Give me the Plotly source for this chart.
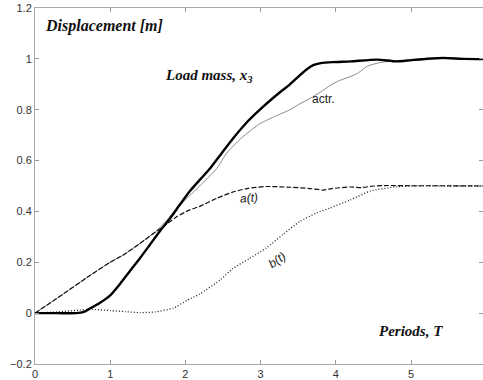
import plotly.graph_objects as go

# Load mass x3 (thick solid)
t_load = [0.0, 0.3, 0.55, 0.65, 0.73, 0.85, 1.0, 1.13, 1.26, 1.4, 1.53, 1.66, 1.8, 1.93, 2.06, 2.2, 2.33, 2.48, 2.63, 2.8, 2.99, 3.2, 3.39, 3.52, 3.62, 3.7, 3.8, 3.96, 4.2, 4.55, 4.8, 5.0, 5.2, 5.43, 5.7, 5.96]
v_load = [0.0, 0.0, 0.0, 0.005, 0.018, 0.038, 0.07, 0.115, 0.165, 0.218, 0.27, 0.322, 0.374, 0.428, 0.48, 0.527, 0.57, 0.628, 0.686, 0.745, 0.80, 0.855, 0.90, 0.935, 0.96, 0.975, 0.983, 0.987, 0.99, 0.997, 0.99, 0.995, 1.0, 1.004, 1.0, 0.999]

# actuator (thin gray)
t_actr = [0.0, 0.3, 0.73, 1.0, 1.17, 1.4, 1.62, 1.75, 1.89, 2.05, 2.19, 2.42, 2.55, 2.75, 2.99, 3.2, 3.39, 3.52, 3.66, 3.8, 3.92, 4.05, 4.19, 4.3, 4.41, 4.55, 4.7, 5.0, 5.4, 5.7, 5.96]
v_actr = [0.0, 0.06, 0.148, 0.2, 0.228, 0.275, 0.325, 0.365, 0.413, 0.46, 0.50, 0.57, 0.63, 0.69, 0.745, 0.775, 0.80, 0.823, 0.845, 0.87, 0.895, 0.915, 0.93, 0.945, 0.97, 0.983, 0.99, 0.993, 1.0, 1.0, 0.999]

# a(t) (dashed)
t_a = [0.0, 0.3, 0.73, 1.0, 1.17, 1.4, 1.62, 1.75, 1.89, 2.05, 2.19, 2.42, 2.62, 2.82, 3.08, 3.4, 3.66, 3.83, 3.95, 4.19, 4.35, 4.5, 4.7, 5.0, 5.4, 5.96]
v_a = [0.0, 0.06, 0.148, 0.2, 0.228, 0.275, 0.323, 0.35, 0.38, 0.405, 0.42, 0.452, 0.475, 0.49, 0.498, 0.495, 0.49, 0.484, 0.49, 0.496, 0.494, 0.5, 0.502, 0.501, 0.501, 0.5]

# b(t) (dotted)
t_b = [0.0, 0.3, 0.6, 0.73, 1.0, 1.2, 1.4, 1.6, 1.84, 2.02, 2.19, 2.46, 2.63, 2.85, 3.08, 3.3, 3.52, 3.75, 3.92, 4.19, 4.46, 4.81, 5.1, 5.4, 5.7, 5.96]
v_b = [0.0, 0.005, 0.012, 0.015, 0.01, 0.006, 0.002, 0.005, 0.02, 0.05, 0.075, 0.13, 0.175, 0.215, 0.257, 0.31, 0.36, 0.395, 0.413, 0.445, 0.48, 0.497, 0.5, 0.5, 0.5, 0.5]

x_ticks = [0, 1, 2, 3, 4, 5]
y_ticks = [-0.2, 0, 0.2, 0.4, 0.6, 0.8, 1, 1.2]
y_tick_text = ["\u22120.2", "0", "0.2", "0.4", "0.6", "0.8", "1", "1.2"]

XMAX = 5.957
YR = [-0.2, 1.2]

fig = go.Figure()
fig.add_trace(go.Scatter(x=t_actr, y=v_actr, mode="lines", line=dict(color="#8a8a8a", width=1, shape="spline", smoothing=0.6), showlegend=False))
fig.add_trace(go.Scatter(x=t_a, y=v_a, mode="lines", line=dict(color="#111", width=1.2, dash="5px,2px", shape="spline", smoothing=0.6), showlegend=False))
fig.add_trace(go.Scatter(x=t_b, y=v_b, mode="lines", line=dict(color="#222", width=1.3, dash="1px,2px", shape="spline", smoothing=0.6), showlegend=False))
fig.add_trace(go.Scatter(x=t_load, y=v_load, mode="lines", line=dict(color="#000", width=2.4, shape="spline", smoothing=0.6), showlegend=False))
fig.add_trace(go.Scatter(x=[0], y=[0], yaxis="y2", mode="markers", marker=dict(opacity=0), showlegend=False, hoverinfo="skip"))

serif = "Liberation Serif"
sans = "Liberation Sans"
anns = [
    dict(x=0.106, y=1.128, text="<b><i>Displacement [m]</i></b>", xanchor="left", yanchor="middle", font=dict(family=serif, size=16, color="#111")),
    dict(x=1.70, y=0.933, text="<b><i>Load mass, x<sub>3</sub></i></b>", xanchor="left", yanchor="middle", font=dict(family=serif, size=15, color="#111")),
    dict(x=3.66, y=0.843, text="actr.", xanchor="left", yanchor="middle", font=dict(family=sans, size=12, color="#222")),
    dict(x=2.85, y=0.452, text="<i>a(t)</i>", xanchor="center", yanchor="middle", textangle=-5, font=dict(family=sans, size=12, color="#222")),
    dict(x=3.22, y=0.21, text="<i>b(t)</i>", xanchor="center", yanchor="middle", textangle=-35, font=dict(family=sans, size=12, color="#222")),
    dict(x=4.55, y=-0.071, text="<b><i>Periods, T</i></b>", xanchor="left", yanchor="middle", font=dict(family=serif, size=15, color="#111")),
]
for a in anns:
    a.update(xref="x", yref="y", showarrow=False)

fig.update_layout(
    width=483, height=380,
    margin=dict(l=35, r=0, t=8, b=13),
    paper_bgcolor="white", plot_bgcolor="white",
    annotations=anns,
    xaxis=dict(range=[0, XMAX], tickvals=x_ticks, ticks="inside", ticklen=4, tickcolor="#999",
               showline=True, linecolor="#aaa", linewidth=1, mirror="ticks", showgrid=False, zeroline=False,
               tickfont=dict(family=sans, size=11, color="#333")),
    yaxis=dict(range=YR, tickvals=y_ticks, ticktext=y_tick_text, ticks="inside", ticklen=4, tickcolor="#999",
               showline=True, linecolor="#aaa", linewidth=1, showgrid=False, zeroline=False,
               tickfont=dict(family=sans, size=11, color="#333")),
    yaxis2=dict(range=YR, overlaying="y", side="right", tickvals=y_ticks, ticks="inside", ticklen=4, tickcolor="#999",
                showticklabels=False, showline=False, showgrid=False, zeroline=False),
)

fig.write_html("out.html")
